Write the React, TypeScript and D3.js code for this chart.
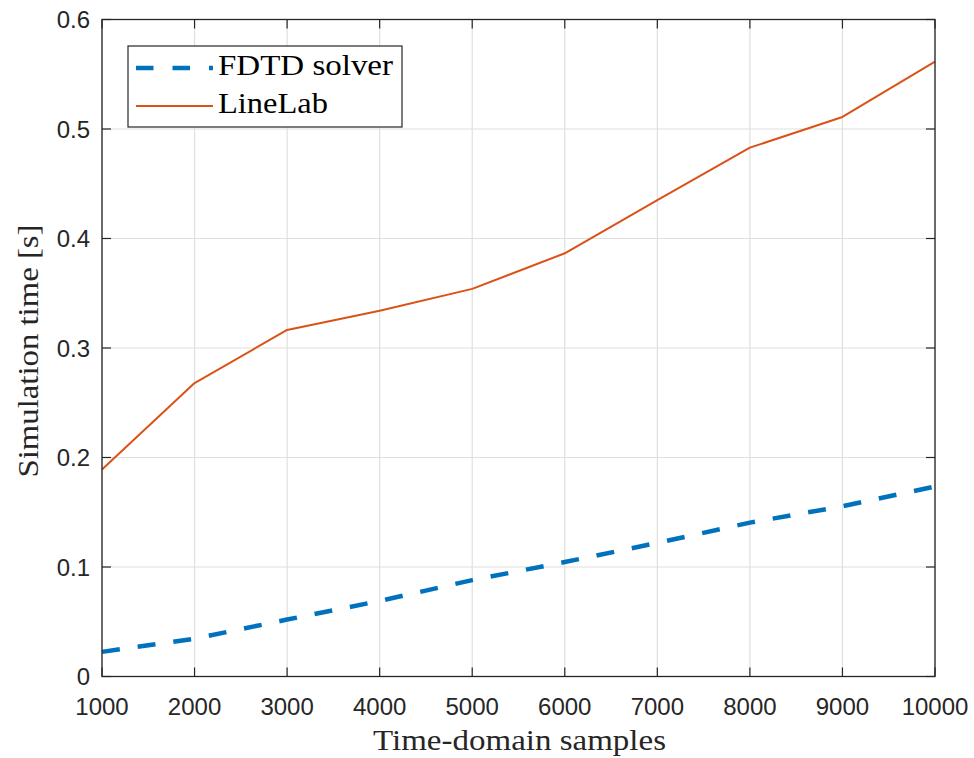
import React from "react";
import * as d3 from "d3";

const samples = [1000, 2000, 3000, 4000, 5000, 6000, 7000, 8000, 9000, 10000];
const fdtd = [0.0225, 0.0345, 0.052, 0.069, 0.088, 0.1045, 0.122, 0.1405, 0.1555, 0.1735];
const lineLab = [0.189, 0.268, 0.3165, 0.334, 0.354, 0.3865, 0.435, 0.483, 0.511, 0.5615];
const xTicks = [1000, 2000, 3000, 4000, 5000, 6000, 7000, 8000, 9000, 10000];
const yTicks = [0, 0.1, 0.2, 0.3, 0.4, 0.5, 0.6];
const seriesNames = ["FDTD solver", "LineLab"];

const W = 974;
const H = 758;
const L = 102, R = 935, T = 19.5, B = 676.5;
const axisColor = "#262626";
const gridColor = "#dfdfdf";
const blue = "#0072BD";
const orange = "#D95319";
const sans = "'Liberation Sans', Arial, Helvetica, sans-serif";
const serif = "'Liberation Serif', 'Times New Roman', serif";

export default function App() {
  const x = d3.scaleLinear().domain([1000, 10000]).range([L, R]);
  const y = d3.scaleLinear().domain([0, 0.6]).range([B, T]);
  const line = d3
    .line<number>()
    .x((_, i) => x(samples[i]))
    .y((d) => y(d));
  const tickLen = 9;

  return (
    <svg
      width={W}
      height={H}
      style={{ position: "absolute", left: 0, top: 0, background: "#fff" }}
      xmlns="http://www.w3.org/2000/svg"
    >
      <rect x={0} y={0} width={W} height={H} fill="#fff" />
      {/* grid */}
      {xTicks.map((t) => (
        <line key={"gx" + t} x1={x(t)} x2={x(t)} y1={T} y2={B} stroke={gridColor} strokeWidth={1.2} />
      ))}
      {yTicks.map((t) => (
        <line key={"gy" + t} x1={L} x2={R} y1={y(t)} y2={y(t)} stroke={gridColor} strokeWidth={1.2} />
      ))}
      {/* data */}
      <path d={line(lineLab) || ""} fill="none" stroke={orange} strokeWidth={2} strokeLinejoin="round" />
      <path d={line(fdtd) || ""} fill="none" stroke={blue} strokeWidth={4.5} strokeDasharray="18 18" />
      {/* ticks */}
      {xTicks.map((t) => (
        <g key={"tx" + t}>
          <line x1={x(t)} x2={x(t)} y1={B} y2={B - tickLen} stroke={axisColor} strokeWidth={1.2} />
          <line x1={x(t)} x2={x(t)} y1={T} y2={T + tickLen} stroke={axisColor} strokeWidth={1.2} />
          <text x={x(t)} y={715} textAnchor="middle" fontFamily={sans} fontSize={24} fill={axisColor}>
            {t}
          </text>
        </g>
      ))}
      {yTicks.map((t) => (
        <g key={"ty" + t}>
          <line x1={L} x2={L + tickLen} y1={y(t)} y2={y(t)} stroke={axisColor} strokeWidth={1.2} />
          <line x1={R} x2={R - tickLen} y1={y(t)} y2={y(t)} stroke={axisColor} strokeWidth={1.2} />
          <text x={90} y={y(t) + 8.8} textAnchor="end" fontFamily={sans} fontSize={24} fill={axisColor}>
            {t === 0 ? "0" : String(t)}
          </text>
        </g>
      ))}
      {/* box */}
      <rect x={L} y={T} width={R - L} height={B - T} fill="none" stroke={axisColor} strokeWidth={1.3} />
      {/* axis labels */}
      <text
        x={519.5}
        y={750}
        textAnchor="middle"
        fontFamily={serif}
        fontSize={30}
        fill={axisColor}
        textLength={293}
        lengthAdjust="spacingAndGlyphs"
      >
        Time-domain samples
      </text>
      <text
        transform={`translate(38, 351) rotate(-90)`}
        textAnchor="middle"
        fontFamily={serif}
        fontSize={30}
        fill={axisColor}
        textLength={253}
        lengthAdjust="spacingAndGlyphs"
      >
        Simulation time [s]
      </text>
      {/* legend */}
      <rect x={128} y={46} width={274} height={81} fill="#fff" stroke={axisColor} strokeWidth={1.2} />
      <line x1={136} x2={213} y1={68} y2={68} stroke={blue} strokeWidth={4.5} strokeDasharray="17.5 19" />
      <line x1={136} x2={213} y1={106} y2={106} stroke={orange} strokeWidth={2} />
      <text x={218} y={75} fontFamily={serif} fontSize={30} fill="#000" textLength={175} lengthAdjust="spacingAndGlyphs">
        {seriesNames[0]}
      </text>
      <text x={218} y={113} fontFamily={serif} fontSize={30} fill="#000" textLength={110} lengthAdjust="spacingAndGlyphs">
        {seriesNames[1]}
      </text>
    </svg>
  );
}
